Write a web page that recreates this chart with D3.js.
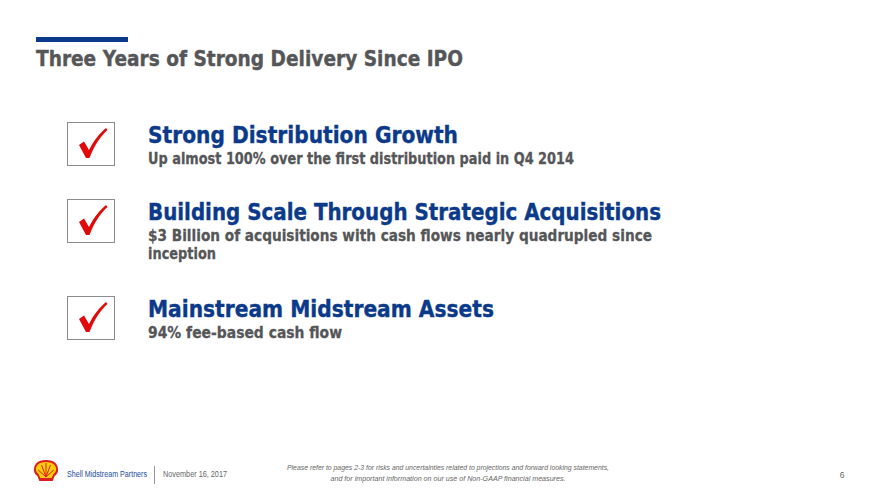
<!DOCTYPE html>
<html>
<head>
<meta charset="utf-8">
<script src="https://cdn.jsdelivr.net/npm/d3@7"></script>
<style>
  body { margin: 0; background: #fff; }
  svg { display: block; }
</style>
</head>
<body>
<script>
// slide text
var title = "Three Years of Strong Delivery Since IPO";
var headings = ["Strong Distribution Growth", "Building Scale Through Strategic Acquisitions", "Mainstream Midstream Assets"];
var subLines = [
  ["Up almost 100% over the first distribution paid in Q4 2014"],
  ["$3 Billion of acquisitions with cash flows nearly quadrupled since", "inception"],
  ["94% fee-based cash flow"]
];
var footerName = "Shell Midstream Partners";
var footerDate = "November 16, 2017";
var footnote = ["Please refer to pages 2-3 for risks and uncertainties related to projections and forward looking statements,",
                "and for important information on our use of Non-GAAP financial measures."];
var pageNum = "6";

var w = 880, h = 495;
var blue = "#0b3a8a", grey = "#555658";

var svg = d3.select("body").append("svg")
    .attr("width", w)
    .attr("height", h);

// title + bar
svg.append("rect").attr("x", 36).attr("y", 37).attr("width", 92).attr("height", 5).attr("fill", blue);
svg.append("text")
    .attr("x", 36).attr("y", 66)
    .attr("font-family", "DejaVu Sans").attr("font-weight", "bold").attr("font-size", 21)
    .attr("textLength", 427).attr("lengthAdjust", "spacingAndGlyphs")
    .attr("fill", grey).attr("stroke", grey).attr("stroke-width", 0.4)
    .text(title);

// item tops, headings widths, sub widths
var tops = [122, 199, 296];
var headWidths = [310, 513, 346];
var subWidths = [[426], [504, 68], [194]];

var items = svg.selectAll("g.item")
    .data(headings)
    .enter().append("g")
    .attr("class", "item")
    .attr("transform", function (d, i) { return "translate(0," + tops[i] + ")"; });

items.append("rect")
    .attr("x", 67.5).attr("y", 0.5)
    .attr("width", 47).attr("height", 43)
    .attr("fill", "#fff").attr("stroke", "#8c8c8c").attr("stroke-width", 1);

// red tick
items.append("path")
    .attr("d", "M79,23 L84,19.5 L89,28 C94,18 100,11 106,6 L107.5,8 C101,14 95,22 89.5,36 L86,36 Z")
    .attr("fill", "#e10a0a");

items.append("text")
    .attr("x", 148).attr("y", 21)
    .attr("font-family", "DejaVu Sans").attr("font-weight", "bold").attr("font-size", 23)
    .attr("textLength", function (d, i) { return headWidths[i]; })
    .attr("lengthAdjust", "spacingAndGlyphs")
    .attr("fill", blue).attr("stroke", blue).attr("stroke-width", 0.4)
    .text(function (d) { return d; });

items.each(function (d, i) {
    d3.select(this).selectAll("text.sub")
        .data(subLines[i])
        .enter().append("text")
        .attr("class", "sub")
        .attr("x", 148)
        .attr("y", function (s, j) { return 42 + j * 18; })
        .attr("font-family", "DejaVu Sans").attr("font-weight", "bold").attr("font-size", 15.5)
        .attr("textLength", function (s, j) { return subWidths[i][j]; })
        .attr("lengthAdjust", "spacingAndGlyphs")
        .attr("fill", grey).attr("stroke", grey).attr("stroke-width", 0.3)
        .text(function (s) { return s; });
});

// footer: shell pecten
var logo = svg.append("g").attr("transform", "translate(46,471)");
logo.append("path")
    .attr("d", "M-6,9 L-8,4 C-12,2 -12,-4 -9,-7 C-5,-11 5,-11 9,-7 C12,-4 12,2 8,4 L6,9 Z")
    .attr("fill", "#fbce07").attr("stroke", "#dd1d21").attr("stroke-width", 2);
logo.selectAll("line")
    .data([-60, -30, 0, 30, 60])
    .enter().append("line")
    .attr("x1", 0).attr("y1", 6)
    .attr("x2", function (a) { return 9 * Math.sin(a * Math.PI / 180); })
    .attr("y2", function (a) { return 6 - 14 * Math.cos(a * Math.PI / 180); })
    .attr("stroke", "#dd1d21").attr("stroke-width", 1);
logo.append("rect").attr("x", -6).attr("y", 7).attr("width", 12).attr("height", 2.5).attr("fill", "#dd1d21");

svg.append("text")
    .attr("x", 67).attr("y", 477)
    .attr("font-family", "Liberation Sans").attr("font-size", 8.5)
    .attr("textLength", 80).attr("lengthAdjust", "spacingAndGlyphs")
    .attr("fill", "#1b4d9b").text(footerName);
svg.append("line")
    .attr("x1", 154.5).attr("x2", 154.5).attr("y1", 466).attr("y2", 484)
    .attr("stroke", "#999");
svg.append("text")
    .attr("x", 163).attr("y", 477)
    .attr("font-family", "Liberation Sans").attr("font-size", 8.5)
    .attr("textLength", 64).attr("lengthAdjust", "spacingAndGlyphs")
    .attr("fill", "#666").text(footerDate);

var footWidths = [322, 235];
svg.selectAll("text.foot")
    .data(footnote)
    .enter().append("text")
    .attr("class", "foot")
    .attr("x", 448)
    .attr("y", function (d, i) { return 470 + i * 10.5; })
    .attr("text-anchor", "middle")
    .attr("font-family", "Liberation Sans").attr("font-style", "italic").attr("font-size", 7.5)
    .attr("textLength", function (d, i) { return footWidths[i]; })
    .attr("lengthAdjust", "spacingAndGlyphs")
    .attr("fill", "#666")
    .text(function (d) { return d; });

svg.append("text")
    .attr("x", 842).attr("y", 478)
    .attr("text-anchor", "middle")
    .attr("font-family", "Liberation Sans").attr("font-size", 8.5)
    .attr("fill", "#666").text(pageNum);
</script>
</body>
</html>
